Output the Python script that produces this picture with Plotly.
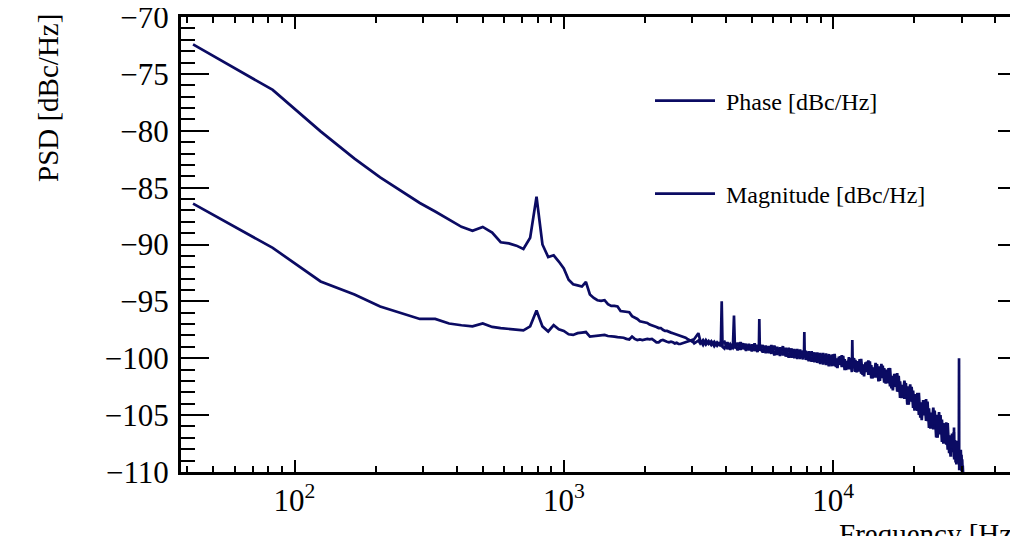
import plotly.graph_objects as go

# ---------------- data ----------------
freq_hz = [
    42, 83, 125, 167, 208, 250, 292, 333, 375, 417, 458, 500, 542, 583, 625, 667, 708, 750,
    792, 833, 875, 917, 958, 1000, 1042, 1083, 1125, 1167, 1208, 1250, 1292, 1333, 1375, 1417,
    1458, 1500, 1542, 1583, 1625, 1667, 1708, 1750, 1792, 1833, 1875, 1917, 1958, 2000, 2042,
    2083, 2125, 2167, 2208, 2250, 2292, 2333, 2375, 2417, 2458, 2500, 2542, 2583, 2625, 2667,
    2708, 2750, 2792, 2833, 2875, 2917, 2958, 3000,
    3050, 3160, 3210, 3290, 3370, 3450, 3530, 3620, 3710, 3800,
    3830, 3858, 3885, 3950, 4050, 4150, 4250, 4285, 4320, 4420,
    4530, 4640, 4750, 4870, 4990, 5110, 5240, 5300, 5321, 5345,
    5480, 5620, 5760, 5900, 6050, 6200, 6350, 6510, 6670, 6840,
    7010, 7180, 7360, 7540, 7730, 7800, 7820, 7845, 7920, 8120,
    8320, 8530, 8740, 8960, 9180, 9410, 9640, 9880,
    10000, 10130, 10260, 10380, 10510, 10640, 10770, 10900, 11040, 11170,
    11310, 11450, 11600, 11740, 11784, 11830, 11960, 12100, 12250, 12400,
    12550, 12710, 12870, 13030, 13190, 13350, 13520, 13690, 13860, 14030,
    14200, 14380, 14560, 14740, 14920, 15110, 15290, 15480, 15680, 15870,
    16070, 16270, 16470, 16670, 16880, 17090, 17300, 17520, 17730, 17950,
    18170, 18400, 18630, 18860, 19090, 19330, 19570, 19820, 20060, 20310,
    20560, 20820, 21080, 21340, 21600, 21870, 22140, 22420, 22700, 22980,
    23260, 23550, 23840, 24140, 24440, 24740, 25050, 25360, 25670, 25990,
    26310, 26640, 26970, 27310, 27650, 27990, 28080, 28120, 28160, 28340,
    28510, 28690, 28990, 29300, 29350, 29400, 29600, 29800, 29970, 30150,
    30300, 30450,
]

phase_dbc = [
    -72.4, -76.4, -80.05, -82.45, -84.1, -85.3, -86.35, -87.1, -87.8, -88.45, -88.8, -88.45,
    -88.95, -89.8, -89.9, -90.1, -90.4, -89.4, -85.8, -90.0, -91.1, -90.95, -91.5, -92.1,
    -93.1, -93.5, -93.6, -93.7, -93.3, -94.4, -94.7, -94.9, -94.95, -94.9, -95.25, -95.4,
    -95.4, -95.45, -95.85, -95.9, -95.9, -95.95, -96.3, -96.4, -96.55, -96.75, -96.8, -96.85,
    -96.9, -97.05, -97.1, -97.15, -97.25, -97.35, -97.35, -97.5, -97.6, -97.6, -97.7, -97.75,
    -97.8, -97.85, -97.9, -97.95, -98.0, -98.05, -98.15, -98.2, -98.3, -98.35, -98.45, -98.55,
    -98.30, -97.80, -98.45, -98.85, -98.40, -98.75, -98.50, -98.95, -98.60, -98.85,
    -98.70, -95.00, -99.00, -99.15, -98.60, -99.25, -98.70, -96.25, -99.15, -98.65,
    -99.25, -98.70, -99.35, -98.75, -99.40, -98.70, -99.45, -98.95, -99.15, -98.80,
    -99.50, -98.90, -99.55, -98.85, -99.75, -99.00, -99.80, -98.95, -99.85, -99.10,
    -99.95, -99.20, -100.05, -99.25, -100.10, -99.45, -97.70, -99.90, -99.35, -100.25,
    -99.40, -100.35, -99.50, -100.50, -99.55, -100.60, -99.65, -100.70,
    -99.66, -100.70, -100.07, -100.87, -99.87, -100.58, -99.73, -100.76, -100.09, -101.03,
    -100.34, -100.96, -99.99, -101.23, -98.40, -100.78, -100.00, -101.21, -100.26, -101.06,
    -100.09, -101.36, -100.59, -101.60, -100.36, -101.21, -100.19, -101.43, -100.62, -101.77,
    -100.93, -101.69, -100.51, -102.03, -100.92, -101.61, -100.65, -102.15, -101.01, -102.04,
    -100.87, -102.48, -101.57, -102.84, -101.38, -102.53, -101.32, -102.97, -102.04, -103.51,
    -102.56, -103.58, -102.18, -104.08, -102.78, -103.60, -102.53, -104.38, -103.15, -104.43,
    -103.06, -104.98, -103.91, -105.45, -103.69, -105.03, -103.59, -105.54, -104.42, -106.19,
    -105.04, -106.27, -104.61, -106.98, -105.37, -106.38, -105.00, -107.36, -105.70, -107.30,
    -105.65, -108.04, -106.79, -108.66, -106.64, -108.26, -106.49, -107.50, -108.62, -107.33,
    -109.17, -107.91, -109.19, -107.95, -100.00, -109.85, -108.19, -109.60, -108.50, -110.20,
    -109.45, -110.60,
]

magnitude_dbc = [
    -86.4, -90.3, -93.25, -94.4, -95.45, -96.05, -96.55, -96.55, -96.95, -97.1, -97.2, -96.95,
    -97.25, -97.35, -97.4, -97.5, -97.55, -97.2, -95.8, -97.2, -97.65, -97.1, -97.45, -97.6,
    -97.9, -97.95, -97.8, -97.75, -97.7, -98.1, -98.05, -98.0, -98.0, -97.95, -98.05, -98.05,
    -98.1, -98.15, -98.15, -98.2, -98.3, -98.35, -98.1, -98.3, -98.4, -98.35, -98.4, -98.35,
    -98.3, -98.35, -98.3, -98.45, -98.6, -98.6, -98.45, -98.4, -98.5, -98.55, -98.6, -98.55,
    -98.6, -98.7, -98.65, -98.75, -98.75, -98.7, -98.65, -98.6, -98.55, -98.5, -98.45, -98.4,
    -98.70, -98.45, -98.70, -98.40, -98.80, -98.50, -98.85, -98.55, -98.90, -98.60,
    -98.95, -98.70, -98.60, -98.55, -99.20, -98.75, -99.10, -98.95, -98.70, -99.30,
    -98.60, -99.20, -98.75, -99.30, -98.80, -99.35, -98.85, -99.30, -96.55, -99.35,
    -98.85, -99.55, -98.95, -99.60, -98.90, -99.70, -99.05, -99.75, -99.10, -99.95,
    -99.15, -100.00, -99.20, -100.05, -99.35, -99.95, -99.75, -99.40, -100.15, -99.40,
    -100.30, -99.50, -100.40, -99.55, -100.55, -99.60, -100.70, -99.70,
    -100.56, -99.62, -100.79, -100.03, -100.49, -99.83, -100.78, -99.80, -101.05, -100.25,
    -100.80, -99.92, -100.66, -100.16, -101.16, -99.90, -100.88, -100.16, -101.24, -100.36,
    -101.17, -100.06, -101.46, -100.55, -101.11, -100.31, -101.47, -100.28, -101.77, -100.81,
    -101.49, -100.41, -101.33, -100.72, -101.99, -100.50, -101.75, -100.88, -102.23, -101.17,
    -102.22, -100.86, -102.65, -101.55, -102.30, -101.39, -102.94, -101.55, -103.49, -102.35,
    -103.26, -101.98, -103.18, -102.48, -104.08, -102.30, -103.83, -102.84, -104.62, -103.38,
    -104.63, -103.04, -105.23, -103.91, -104.79, -103.68, -105.51, -103.82, -106.14, -104.78,
    -105.88, -104.35, -105.81, -104.98, -106.99, -104.75, -106.69, -105.41, -107.52, -106.00,
    -107.60, -105.70, -108.35, -106.84, -107.94, -106.70, -108.70, -106.10, -108.90, -107.20,
    -107.68, -109.35, -107.27, -109.15, -108.20, -109.37, -109.18, -108.06, -109.90, -108.90,
    -110.45, -110.50,
]

x_major = [100, 1000, 10000]
x_major_text = ["10<sup>2</sup>", "10<sup>3</sup>", "10<sup>4</sup>"]
x_minor = [40, 50, 60, 70, 80, 90,
           200, 300, 400, 500, 600, 700, 800, 900,
           2000, 3000, 4000, 5000, 6000, 7000, 8000, 9000,
           20000, 30000, 40000, 50000]
y_major = [-110, -105, -100, -95, -90, -85, -80, -75, -70]

# ---------------- style ----------------
COLOR = "#0b0b63"
FONT = "Liberation Serif, Times New Roman, serif"

fig = go.Figure()
fig.add_trace(go.Scatter(
    x=freq_hz, y=phase_dbc, mode="lines", name="\u00a0Phase [dBc/Hz]",
    line=dict(color=COLOR, width=2.7), legend="legend",
))
fig.add_trace(go.Scatter(
    x=freq_hz, y=magnitude_dbc, mode="lines", name="\u00a0Magnitude [dBc/Hz]",
    line=dict(color=COLOR, width=2.7), legend="legend2",
))

W, H = 1018, 536
L, R, T, B = 173, 0, 9, 72
pw, ph = W - L - R, H - T - B
OFF = 8  # page body margin offset


def px_x(p):
    return (p - OFF - L) / pw


def px_y(p):
    return (H - B - (p - OFF)) / ph


fig.update_layout(
    width=W, height=H,
    margin=dict(l=L, r=R, t=T, b=B, autoexpand=False),
    paper_bgcolor="white", plot_bgcolor="white",
    font=dict(family=FONT, color="black", size=31),
    showlegend=True,
    xaxis=dict(
        type="log", range=[1.5785, 4.7163],
        showline=True, linewidth=3, linecolor="black", mirror="allticks",
        ticks="inside", ticklen=12, tickwidth=2, tickcolor="black",
        tickmode="array", tickvals=x_major, ticktext=x_major_text,
        minor=dict(tickmode="array", tickvals=x_minor, ticks="inside",
                   ticklen=6, tickwidth=2, tickcolor="black"),
        showgrid=False, zeroline=False, ticklabelstandoff=-1,
        tickfont=dict(family=FONT, size=31, color="black"),
    ),
    yaxis=dict(
        range=[-110.01, -69.99],
        showline=True, linewidth=3, linecolor="black", mirror="allticks",
        ticks="inside", ticklen=28, tickwidth=2, tickcolor="black",
        tickmode="array", tickvals=y_major,
        minor=dict(tickmode="linear", tick0=-110, dtick=1, ticks="inside",
                   ticklen=14, tickwidth=2, tickcolor="black"),
        showgrid=False, zeroline=False, ticklabelstandoff=3,
        ticklabeloverflow="allow",
        tickfont=dict(family=FONT, size=31, color="black"),
    ),
    legend=dict(
        x=px_x(650), y=px_y(101), xanchor="left", yanchor="middle",
        bgcolor="rgba(0,0,0,0)", borderwidth=0, itemwidth=60,
        font=dict(family=FONT, size=24, color="black"),
    ),
    legend2=dict(
        x=px_x(650), y=px_y(194), xanchor="left", yanchor="middle",
        bgcolor="rgba(0,0,0,0)", borderwidth=0, itemwidth=60,
        font=dict(family=FONT, size=24, color="black"),
    ),
    annotations=[
        dict(text="PSD [dBc/Hz]", xref="paper", yref="paper",
             x=px_x(48), y=px_y(98), xanchor="center", yanchor="middle",
             textangle=-90, showarrow=False,
             font=dict(family=FONT, size=29, color="black")),
        dict(text="Frequency [Hz]", xref="paper", yref="paper",
             x=px_x(1024), y=px_y(516), xanchor="right", yanchor="top",
             showarrow=False,
             font=dict(family=FONT, size=29, color="black")),
    ],
)

fig.write_html(
    "out.html",
    post_script="document.documentElement.style.overflow='hidden';"
                "document.body.style.overflow='hidden';",
)
